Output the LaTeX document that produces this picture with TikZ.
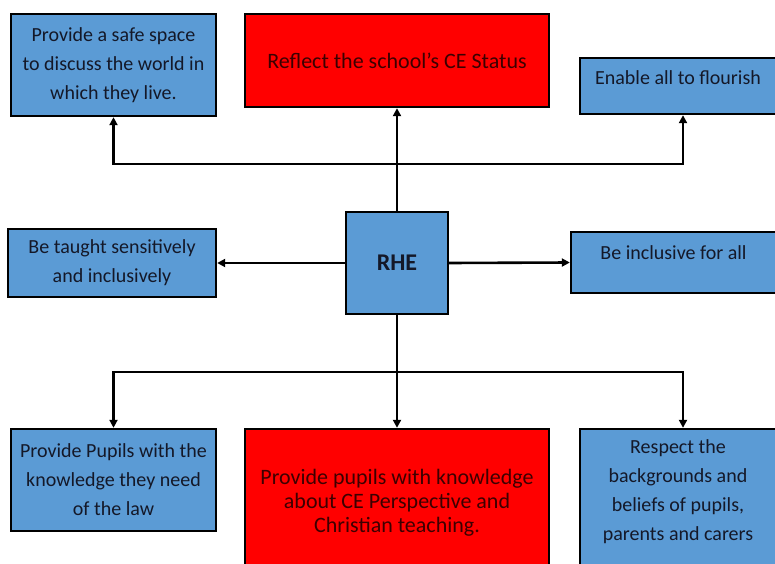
\documentclass[tikz,border=0pt]{standalone}
\usepackage{fontspec}
\setmainfont{Carlito}
\usetikzlibrary{arrows.meta}
\begin{document}
\begin{tikzpicture}[x=1pt,y=1pt,
  box/.style={draw=black,line width=2.4pt,fill=fillBlue,text=textColor,align=center,
    inner sep=0pt,font=\fontsize{20}{29}\selectfont},
  redbox/.style={box,fill=fillRed,text=textRed,font=\fontsize{22}{24}\selectfont},
  link/.style={draw=black,line width=2.6pt,-{Triangle[length=8pt,width=8pt]}}]
\definecolor{fillBlue}{RGB}{91,155,213}
\definecolor{fillRed}{RGB}{255,0,0}
\definecolor{textColor}{RGB}{20,24,40}
\definecolor{textRed}{RGB}{60,0,0}
\path[use as bounding box,fill=white] (0,0) rectangle (775,563);

\node[box,minimum width=205,minimum height=102] (safe) at (113.50,498.00) {Provide a safe\ space\\to discuss the world in\\which they live.};

\node[redbox,minimum width=304,minimum height= 93] (status) at (397.00,502.50) {Reflect the school’s CE Status};

\node[box,minimum width=196,minimum height= 56,text depth=17pt] (flourish) at (678.00,477.00) {Enable all to flourish};

\node[box,minimum width=102,minimum height=102,font=\fontsize{24}{29}\selectfont\bfseries] (rhe) at (397.00,300.00) {RHE};

\node[box,minimum width=208,minimum height= 68] (taught) at (112.00,300.00) {Be taught sensitively\\and inclusively};

\node[box,minimum width=205,minimum height= 61,text depth=20pt] (inclusive) at (673.50,300.50) {Be inclusive for all};

\node[box,minimum width=205,minimum height=102] (law) at (113.50, 83.00) {Provide Pupils with the\\knowledge they need\\of the law};

\node[redbox,minimum width=304,minimum height=148] (teaching) at (397.00, 60.00) {Provide pupils with knowledge\\about CE Perspective and\\Christian teaching.};

\node[box,minimum width=196,minimum height=151,text depth=29pt] (respect) at (678.00, 58.50) {Respect the\\backgrounds and\\beliefs of pupils,\\parents and carers};

\coordinate (up) at (397.00,399.00);

\coordinate (down) at (397.00,191.00);

\path[link] (rhe.north) -- (status.south);

\path[link] (up) -| (safe.south);

\path[link] (up) -| ([xshift=5pt]flourish.south);

\path[link] (rhe.south) -- (teaching.north);

\path[link] (down) -| (law.north);

\path[link] (down) -| ([xshift=5pt]respect.north);

\path[link] (rhe.west) -- (taught.east);

\path[link] (rhe.east) -- (inclusive.west);
\end{tikzpicture}
\end{document}
